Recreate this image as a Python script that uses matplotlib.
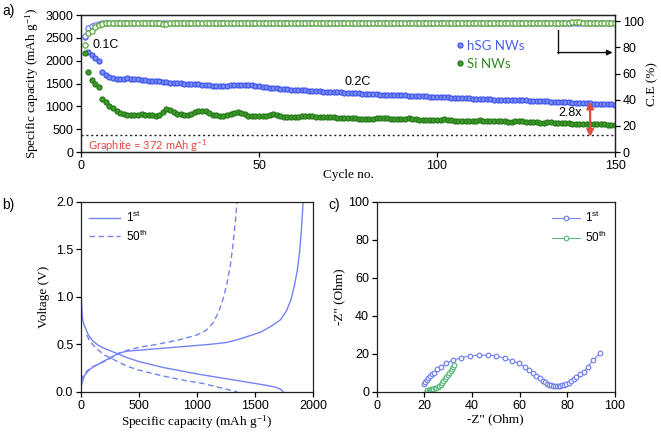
import matplotlib
matplotlib.use("Agg")
import matplotlib.pyplot as plt

plt.rcParams['mathtext.default'] = 'regular'
plt.rcParams['font.family'] = ['Liberation Sans', 'DejaVu Sans']

# ---------------- data: panel a ----------------
cycles = list(range(1, 151))
hsg_cap = [
    2520, 2200, 2130, 2060, 1990, 1750, 1690, 1650, 1630, 1610,
    1600, 1610, 1620, 1610, 1600, 1590, 1580, 1570, 1560, 1560,
    1550, 1550, 1540, 1530, 1520, 1520, 1510, 1510, 1500, 1500,
    1500, 1490, 1490, 1480, 1470, 1460, 1450, 1450, 1450, 1450,
    1450, 1460, 1460, 1460, 1470, 1480, 1480, 1470, 1450, 1440,
    1430, 1420, 1410, 1400, 1400, 1390, 1380, 1380, 1370, 1360,
    1360, 1350, 1350, 1340, 1340, 1330, 1330, 1320, 1320, 1320,
    1320, 1310, 1310, 1300, 1300, 1300, 1290, 1290, 1280, 1280,
    1280, 1270, 1270, 1260, 1260, 1250, 1250, 1250, 1240, 1240,
    1240, 1230, 1230, 1230, 1220, 1220, 1220, 1210, 1210, 1210,
    1200, 1200, 1200, 1190, 1190, 1190, 1180, 1180, 1180, 1170,
    1170, 1170, 1160, 1160, 1160, 1150, 1150, 1150, 1140, 1140,
    1140, 1140, 1130, 1130, 1130, 1120, 1120, 1120, 1110, 1110,
    1110, 1100, 1100, 1100, 1090, 1090, 1090, 1080, 1080, 1080,
    1070, 1070, 1070, 1060, 1060, 1060, 1050, 1050, 1050, 1040,
]
si_cap = [
    2170, 1750, 1570, 1500, 1420, 1160, 1090, 1020, 960, 900,
    860, 830, 820, 820, 810, 820, 830, 820, 810, 810,
    800, 810, 880, 940, 930, 880, 830, 830, 820, 810,
    830, 870, 890, 900, 890, 860, 820, 810, 800, 800,
    810, 840, 860, 870, 860, 830, 800, 790, 790, 780,
    780, 790, 810, 830, 810, 790, 770, 770, 760, 760,
    760, 780, 800, 800, 790, 770, 770, 760, 760, 760,
    760, 750, 750, 750, 740, 740, 740, 730, 730, 730,
    730, 730, 740, 750, 750, 740, 730, 720, 720, 720,
    730, 740, 730, 720, 710, 710, 700, 700, 700, 700,
    710, 720, 710, 700, 690, 690, 690, 690, 680, 680,
    690, 700, 690, 680, 680, 670, 670, 670, 670, 660,
    660, 670, 680, 670, 660, 650, 650, 650, 640, 640,
    650, 650, 640, 640, 630, 630, 630, 620, 620, 620,
    620, 620, 610, 610, 610, 610, 610, 600, 600, 600,
]
hsg_ce = [
    89.0, 94.6, 96.0, 97.0, 97.7, 98.2, 98.4, 98.5, 98.6, 98.6,
    98.7, 98.7, 98.6, 98.7, 98.7, 98.8, 98.7, 98.7, 98.8, 98.8,
    98.8, 98.7, 98.5, 98.3, 98.5, 98.7, 98.8, 98.8, 98.7, 98.8,
    98.8, 98.9, 98.8, 98.8, 98.7, 98.8, 98.8, 98.9, 98.8, 98.8,
    98.8, 98.9, 98.8, 98.8, 98.9, 98.8, 98.8, 98.9, 98.8, 98.8,
    98.9, 98.8, 98.8, 98.9, 98.8, 98.8, 98.9, 98.8, 98.8, 98.9,
    98.8, 98.9, 98.8, 98.8, 98.9, 98.8, 98.8, 98.9, 98.8, 98.8,
    98.9, 98.8, 98.8, 98.9, 98.8, 98.8, 98.9, 98.8, 98.8, 98.9,
    98.8, 98.9, 98.8, 98.8, 98.9, 98.8, 98.8, 98.9, 98.8, 98.8,
    98.9, 98.8, 98.8, 98.9, 98.8, 98.8, 98.9, 98.8, 98.8, 98.9,
    98.8, 98.9, 98.8, 98.8, 98.9, 98.8, 98.8, 98.9, 98.8, 98.8,
    98.9, 98.8, 98.8, 98.9, 98.8, 98.8, 98.9, 98.8, 98.8, 98.9,
    98.8, 98.9, 98.8, 98.8, 98.9, 98.8, 98.8, 98.9, 98.8, 98.8,
    98.9, 98.8, 98.8, 98.9, 98.8, 98.8, 98.9, 98.8, 98.8, 98.9,
    98.8, 98.9, 98.8, 98.8, 98.9, 98.8, 98.8, 98.9, 98.8, 98.8,
]
si_ce = [
    81.7, 90.8, 92.6, 95.2, 97.0, 97.9, 98.3, 98.5, 98.6, 98.6,
    98.7, 98.6, 98.7, 98.6, 98.7, 98.6, 98.7, 98.6, 98.6, 98.7,
    98.6, 98.4, 98.1, 98.0, 98.3, 98.5, 98.6, 98.6, 98.6, 98.4,
    98.3, 98.4, 98.6, 98.6, 98.7, 98.6, 98.6, 98.7, 98.6, 98.6,
    98.7, 98.6, 98.6, 98.7, 98.6, 98.6, 98.7, 98.6, 98.6, 98.7,
    98.6, 98.6, 98.7, 98.6, 98.6, 98.7, 98.6, 98.6, 98.7, 98.6,
    98.6, 98.7, 98.6, 98.6, 98.7, 98.6, 98.6, 98.7, 98.6, 98.6,
    98.7, 98.6, 98.6, 98.7, 98.6, 98.6, 98.7, 98.6, 98.6, 98.7,
    98.6, 98.6, 98.7, 98.6, 98.6, 98.7, 98.6, 98.6, 98.7, 98.6,
    98.6, 98.7, 98.6, 98.6, 98.7, 98.6, 98.6, 98.7, 98.6, 98.6,
    98.7, 98.6, 98.6, 98.7, 98.6, 98.6, 98.7, 98.6, 98.6, 98.7,
    98.6, 98.6, 98.7, 98.6, 98.6, 98.7, 98.6, 98.6, 98.7, 98.6,
    98.6, 98.7, 98.6, 98.6, 98.7, 98.6, 98.6, 98.7, 98.6, 98.6,
    98.7, 98.6, 98.6, 98.7, 98.6, 98.6, 98.8, 99.3, 99.5, 99.2,
    98.8, 98.7, 98.6, 98.6, 98.7, 98.6, 98.6, 98.7, 98.6, 98.6,
]
graphite_cap = 372
series_labels = ["hSG NWs", "Si NWs"]

# ---------------- data: panel b ----------------
dis1_x = [0, 0, 0, 3, 8, 15, 25, 40, 60, 80, 100, 150, 200, 300, 400, 500,
          700, 1000, 1200, 1450, 1600, 1680, 1720, 1745]
dis1_y = [2.0, 1.6, 1.2, 1.0, 0.85, 0.76, 0.71, 0.67, 0.61, 0.57, 0.54, 0.49,
          0.46, 0.41, 0.36, 0.32, 0.26, 0.19, 0.15, 0.10, 0.07, 0.05, 0.03, 0.0]
chg1_x = [0, 10, 30, 60, 100, 160, 250, 330, 400, 500, 700, 900, 1100, 1250,
          1350, 1450, 1550, 1650, 1720, 1770, 1810, 1840, 1865, 1885, 1900, 1915]
chg1_y = [0.05, 0.10, 0.17, 0.22, 0.26, 0.30, 0.36, 0.41, 0.43, 0.44, 0.46,
          0.48, 0.50, 0.52, 0.55, 0.59, 0.63, 0.70, 0.76, 0.85, 0.97, 1.12,
          1.28, 1.48, 1.70, 2.0]
dis50_x = [50, 70, 100, 150, 200, 300, 400, 500, 700, 900, 1050, 1150, 1250,
           1320, 1350]
dis50_y = [0.60, 0.55, 0.50, 0.44, 0.39, 0.33, 0.27, 0.23, 0.17, 0.12, 0.09,
           0.06, 0.03, 0.01, 0.0]
chg50_x = [0, 20, 50, 90, 130, 200, 280, 330, 400, 500, 650, 850, 1000, 1080,
           1140, 1190, 1230, 1260, 1290, 1310, 1330, 1345]
chg50_y = [0.12, 0.17, 0.22, 0.26, 0.28, 0.32, 0.37, 0.41, 0.44, 0.47, 0.50,
           0.55, 0.60, 0.65, 0.73, 0.85, 1.0, 1.15, 1.35, 1.55, 1.78, 2.0]

# ---------------- data: panel c ----------------
eis1_x = [19.7, 20.3, 20.9, 21.6, 22.3, 23.1, 24.0, 25.4, 27.2, 29.3, 32.1,
          35.6, 39.1, 43.0, 46.8, 50.3, 53.8, 57.0, 59.8, 62.2, 64.0, 65.7,
          67.1, 68.5, 69.9, 70.8, 71.6, 72.4, 73.2, 74.0, 74.8, 75.6, 76.4,
          77.2, 78.0, 78.8, 79.7, 80.8, 81.8, 82.8, 83.9, 85.2, 87.0, 88.8,
          90.9, 93.7]
eis1_y = [4.2, 5.2, 6.3, 7.3, 8.4, 9.3, 10.2, 11.9, 13.3, 15.1, 16.8, 18.0,
          19.0, 19.4, 19.4, 19.0, 17.7, 16.3, 15.1, 13.3, 11.6, 10.2, 8.4, 7.2,
          5.8, 5.0, 4.4, 3.9, 3.6, 3.4, 3.3, 3.3, 3.3, 3.4, 3.5, 3.7, 4.2, 4.8,
          5.6, 6.8, 8.1, 9.6, 10.7, 13.3, 16.8, 20.3]
eis50_x = [20.9, 21.3, 21.8, 22.3, 22.8, 23.3, 23.8, 24.4, 25.0, 25.6, 26.2,
           26.8, 27.4, 28.0, 28.6, 29.2, 29.8, 30.4, 31.0, 31.6, 32.1, 32.5]
eis50_y = [0.6, 0.9, 1.1, 1.3, 1.5, 1.7, 1.8, 2.0, 2.2, 2.5, 3.0, 3.8, 4.8,
           5.8, 6.8, 7.9, 9.0, 10.1, 11.2, 12.3, 13.3, 14.3]

# ---------------- styling ----------------
BLUE = '#7a8cf6'
BLUE_E = '#4257ea'
BLUE_CE = '#6d80f5'
GREEN = '#3f9a2c'
GREEN_E = '#267a18'
GREEN_CE = '#5aa838'
LBLUE = '#7383f2'
MINT = '#5dbb80'
RED = '#e34a40'
SERIF = ['Liberation Serif', 'DejaVu Serif']
TICKFS = 9

fig = plt.figure(figsize=(6.61, 4.32), dpi=100)

def style_axes(ax):
    ax.tick_params(direction='out', length=3.5, width=0.9, labelsize=TICKFS,
                   pad=2, colors='black')
    for s in ax.spines.values():
        s.set_linewidth(0.9)
        s.set_color('#222222')

# ---- panel a ----
ax1 = fig.add_axes([0.1225, 0.648, 0.808, 0.317])
ax2 = ax1.twinx()
ax1.set_xlim(0, 150)
ax1.set_ylim(0, 3000)
ax1.set_xticks([0, 50, 100, 150])
ax1.set_yticks(range(0, 3001, 500))
ax2.set_ylim(0, 104.6)
ax2.set_yticks(range(0, 101, 20))
style_axes(ax1)
style_axes(ax2)

ax1.plot(cycles, hsg_cap, 'o', ms=3.6, mfc=BLUE, mec=BLUE_E, mew=0.9,
         label=series_labels[0], zorder=3)
ax1.plot(cycles, si_cap, 'o', ms=3.6, mfc=GREEN, mec=GREEN_E, mew=0.9,
         label=series_labels[1], zorder=3)
ax2.plot(cycles, hsg_ce, 'o', ms=3.8, mfc='white', mec=BLUE_CE, mew=0.9)
ax2.plot(cycles, si_ce, 'o', ms=3.8, mfc='white', mec=GREEN_CE, mew=0.9)

ax1.axhline(graphite_cap, ls=(0, (1.5, 2)), color='#222222', lw=1.0, zorder=2)
ax1.text(2, 150, 'Graphite = 372 mAh g$^{-1}$', color=RED, fontsize=8,
         family=['Lato', 'DejaVu Sans'], va='center', ha='left')
ax1.text(3.2, 2340, '0.1C', fontsize=9, va='center', ha='left')
ax1.text(74, 1530, '0.2C', fontsize=9, va='center', ha='left')
ax1.text(137.4, 860, '2.8x', fontsize=9, va='center', ha='center')
ax1.annotate('', xy=(143, 1110), xytext=(143, graphite_cap - 40),
             arrowprops=dict(arrowstyle='<|-|>', color=RED, lw=1.6,
                             mutation_scale=10, shrinkA=0, shrinkB=0))
ax2.plot([134, 134], [93, 76], color='#111111', lw=1.0)
ax2.annotate('', xy=(149.3, 76), xytext=(133.9, 76),
             arrowprops=dict(arrowstyle='-|>', color='#111111', lw=1.0,
                             mutation_scale=8, shrinkA=0, shrinkB=0))

leg = ax1.legend(loc='upper left', bbox_to_anchor=(0.69, 0.86), frameon=False,
                 handletextpad=0.1, handlelength=0.8, borderaxespad=0,
                 labelspacing=0.45, prop={'family': ['Lato', 'DejaVu Sans'], 'size': 9.5})
for t, c in zip(leg.get_texts(), ['#4a5ff0', '#2f8a1f']):
    t.set_color(c)

ax1.set_xlabel('Cycle no.', family=SERIF, fontsize=9.5, labelpad=-2)
ax1.set_ylabel('Specific capacity (mAh g$^{-1}$)', family=SERIF, fontsize=9.5,
               labelpad=3)
ax2.set_ylabel('C.E (%)', family=SERIF, fontsize=9.5, labelpad=2)

# ---- panel b ----
axb = fig.add_axes([0.1225, 0.0926, 0.351, 0.44])
axb.plot(dis1_x, dis1_y, '-', color=LBLUE, lw=1.0, label='1$^{st}$')
axb.plot(chg1_x, chg1_y, '-', color=LBLUE, lw=1.0)
axb.plot(dis50_x, dis50_y, '--', color=LBLUE, lw=1.0, dashes=(4, 2.5),
         label='50$^{th}$')
axb.plot(chg50_x, chg50_y, '--', color=LBLUE, lw=1.0, dashes=(4, 2.5))
axb.set_xlim(0, 2000)
axb.set_ylim(0, 2.0)
axb.set_xticks(range(0, 2001, 500))
axb.set_yticks([0.0, 0.5, 1.0, 1.5, 2.0])
axb.set_yticklabels(['0.0', '0.5', '1.0', '1.5', '2.0'])
style_axes(axb)
axb.legend(loc='upper left', frameon=False, fontsize=8.5, handlelength=2.6,
           handletextpad=0.5, borderaxespad=0.3, labelspacing=0.25)
axb.set_xlabel('Specific capacity (mAh g$^{-1}$)', family=SERIF, fontsize=9.5,
               labelpad=1)
axb.set_ylabel('Voltage (V)', family=SERIF, fontsize=9.5, labelpad=4)

# ---- panel c ----
axc = fig.add_axes([0.570, 0.0926, 0.360, 0.44])
axc.plot(eis1_x, eis1_y, 'o-', color=LBLUE, ms=3.3, mfc='white', mew=0.9,
         lw=0.8, label='1$^{st}$')
axc.plot(eis50_x, eis50_y, 'o-', color=MINT, ms=3.3, mfc='white', mew=0.9,
         lw=0.8, label='50$^{th}$')
axc.set_xlim(0, 100)
axc.set_ylim(0, 100)
axc.set_xticks(range(0, 101, 20))
axc.set_yticks(range(0, 101, 20))
style_axes(axc)
axc.legend(loc='upper right', frameon=False, fontsize=8.5, handlelength=2.4,
           handletextpad=0.4, borderaxespad=0.3, labelspacing=0.4,
           bbox_to_anchor=(1.0, 1.0))
axc.set_xlabel('-Z" (Ohm)', family=SERIF, fontsize=9.5, labelpad=1)
axc.set_ylabel('-Z" (Ohm)', family=SERIF, fontsize=9.5, labelpad=2)

# panel letters
fig.text(0.003, 0.975, 'a)', fontsize=10, va='center', ha='left')
fig.text(0.003, 0.525, 'b)', fontsize=10, va='center', ha='left')
fig.text(0.497, 0.525, 'c)', fontsize=10, va='center', ha='left')

fig.savefig('out.png', dpi=100)
